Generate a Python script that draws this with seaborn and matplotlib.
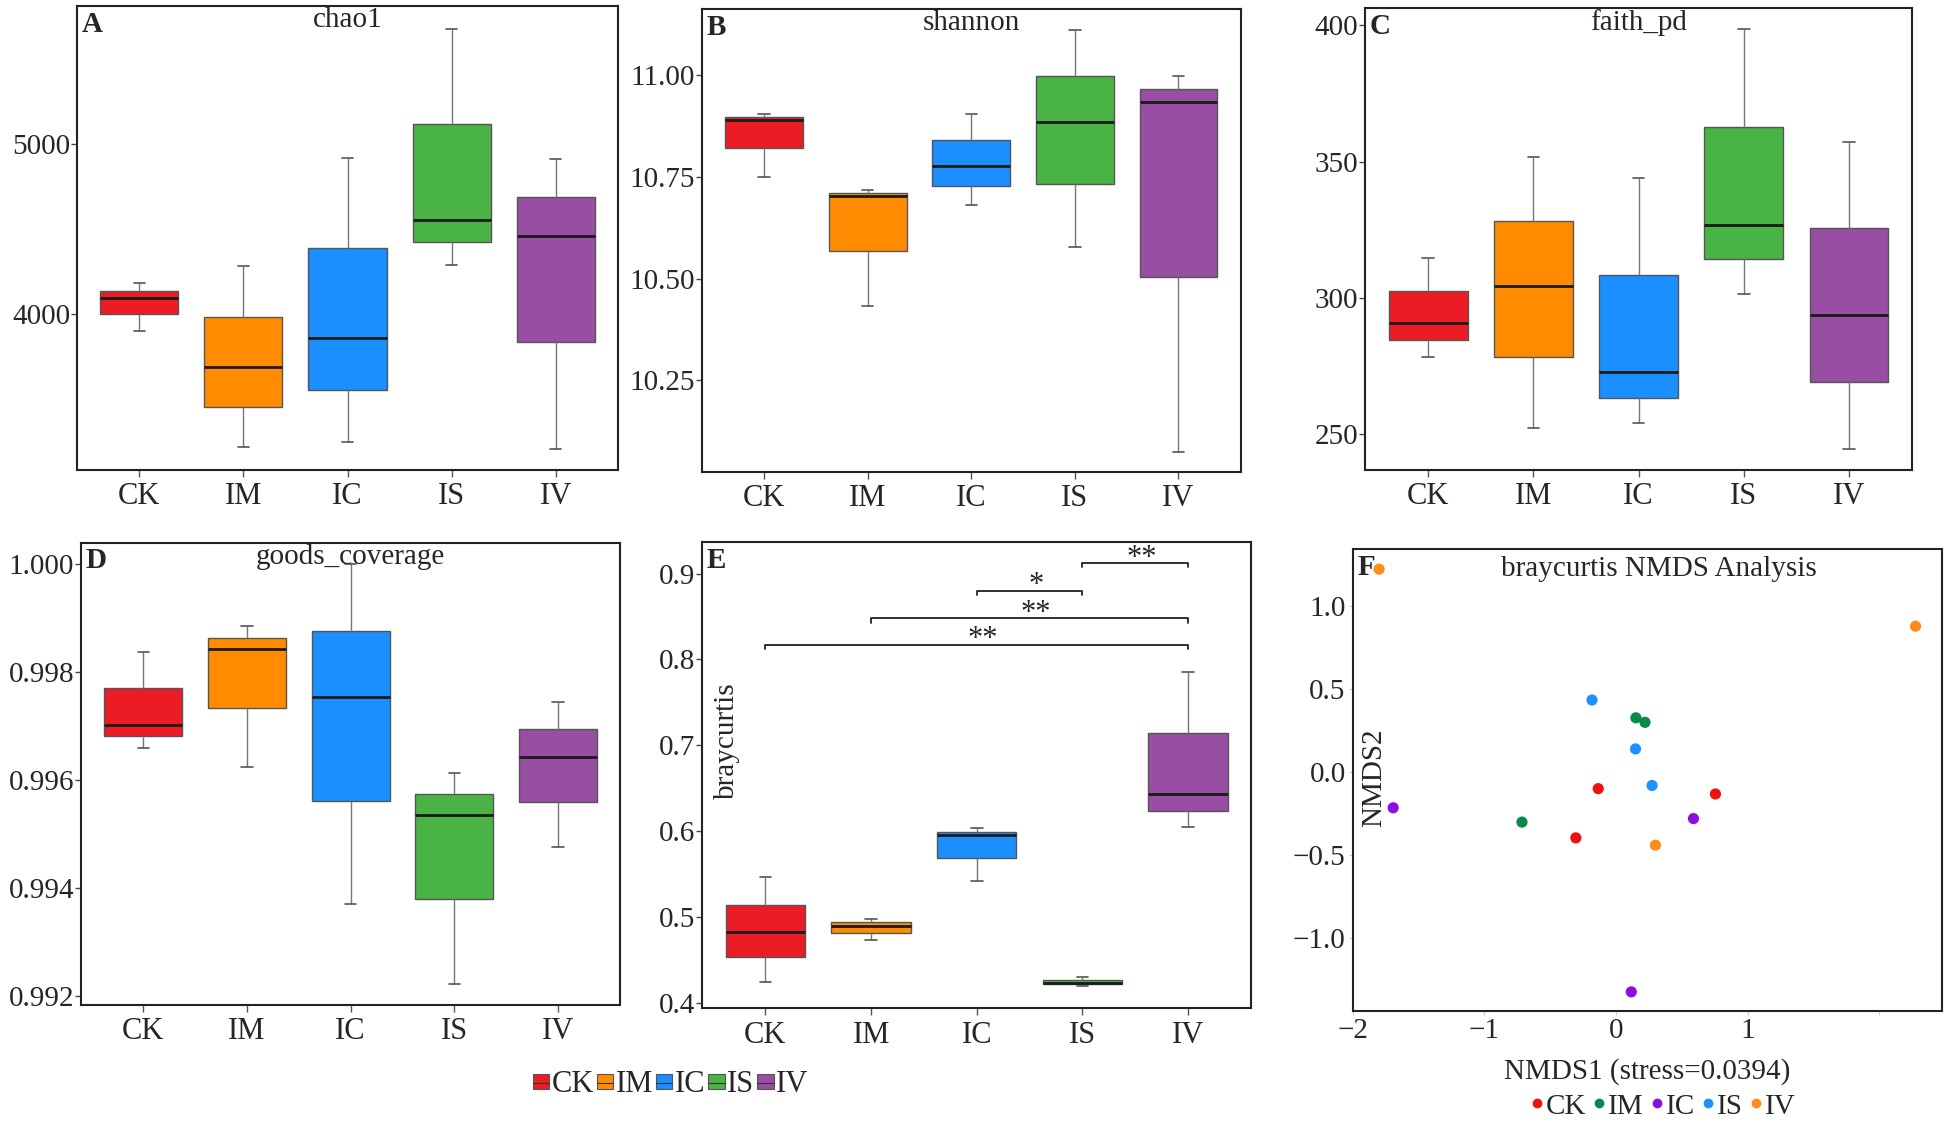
import numpy as np
import pandas as pd
import matplotlib
matplotlib.use("Agg")
import matplotlib.pyplot as plt
from matplotlib.patches import Patch
from matplotlib.lines import Line2D
from matplotlib.legend_handler import HandlerTuple
import seaborn as sns

### DATA ###
groups = ["CK", "IM", "IC", "IS", "IV"]
box_colors = ["#EC1C24", "#FF8C00", "#1A8FFF", "#4AB346", "#984EA3"]

chao1 = {"CK": [3904, 4096, 4181], "IM": [3220, 3690, 4283], "IC": [3246, 3858, 4918],
         "IS": [4288, 4556, 5678], "IV": [3207, 4462, 4912]}
shannon = {"CK": [10.751, 10.891, 10.904], "IM": [10.432, 10.703, 10.717], "IC": [10.681, 10.776, 10.904],
           "IS": [10.577, 10.886, 11.111], "IV": [10.074, 10.934, 10.999]}
faith_pd = {"CK": [278.5, 290.8, 314.6], "IM": [252.2, 304.4, 351.8], "IC": [254.1, 272.7, 344.0],
            "IS": [301.6, 326.8, 398.8], "IV": [244.5, 293.7, 357.3]}
goods_coverage = {"CK": [0.99660, 0.99702, 0.99838], "IM": [0.99624, 0.99842, 0.99885],
                  "IC": [0.99370, 0.99754, 1.00000], "IS": [0.99222, 0.99536, 0.99614],
                  "IV": [0.99476, 0.99643, 0.99745]}
braycurtis = {"CK": [0.4246, 0.4832, 0.5467], "IM": [0.4733, 0.4899, 0.4984], "IC": [0.5418, 0.5959, 0.6035],
              "IS": [0.4201, 0.4242, 0.4304], "IV": [0.6048, 0.6437, 0.7855]}

# significance brackets on braycurtis: (group1, group2, height, label)
brackets = [("CK", "IV", 0.817, "**"), ("IM", "IV", 0.848, "**"),
            ("IC", "IS", 0.880, "*"), ("IS", "IV", 0.912, "**")]

# NMDS coordinates
nmds_groups = ["CK", "IM", "IC", "IS", "IV"]
nmds_colors = ["#EE1111", "#0B8A47", "#8A10E0", "#1E90FF", "#FF8C1A"]
nmds1 = {"CK": [-0.135, 0.755, -0.305], "IM": [0.151, 0.220, -0.714], "IC": [-1.692, 0.588, 0.116],
         "IS": [-0.182, 0.148, 0.274], "IV": [-1.799, 2.274, 0.299]}
nmds2 = {"CK": [-0.100, -0.132, -0.396], "IM": [0.326, 0.299, -0.301], "IC": [-0.215, -0.280, -1.322],
         "IS": [0.433, 0.139, -0.081], "IV": [1.220, 0.877, -0.440]}
stress = 0.0394

### STYLE ###
sns.set_style("white")
plt.rcParams["font.family"] = ["Liberation Serif", "DejaVu Serif"]
plt.rcParams["axes.linewidth"] = 1.5

fig = plt.figure(figsize=(19.49, 11.23), dpi=100)


def to_long(d):
    rows = [(g, v) for g in groups for v in d[g]]
    return pd.DataFrame(rows, columns=["group", "value"])


def box_panel(rect, d, title, letter, ylim, yticks, fmt):
    ax = fig.add_axes(rect)
    df = to_long(d)
    sns.boxplot(data=df, x="group", y="value", hue="group", order=groups, hue_order=groups,
                palette=box_colors, saturation=1, legend=False, width=0.75, linewidth=1.0,
                linecolor="#555555", whis=np.inf, ax=ax,
                medianprops={"color": "#1a1a1a", "linewidth": 2.0},
                whiskerprops={"color": "#777777", "linewidth": 1.0},
                capprops={"color": "#555555", "linewidth": 1.2})
    # narrow caps like the original
    for cont in ax.containers:
        for cap in getattr(cont, "caps", []):
            xd = np.asarray(cap.get_xdata(), dtype=float)
            c = xd.mean()
            cap.set_xdata([c - 0.055, c + 0.055])
    ax.set_xlim(-0.6, 4.6)
    ax.set_ylim(*ylim)
    ax.set_yticks(yticks)
    ax.set_yticklabels([fmt.format(t) for t in yticks])
    ax.set_xlabel("")
    ax.set_ylabel("")
    ax.tick_params(axis="x", bottom=True, labelsize=22, length=5, width=1, color="#555555", pad=4)
    ax.tick_params(axis="y", left=True, labelsize=21, length=4, width=1, color="#444466", pad=1)
    for s in ax.spines.values():
        s.set_color("#222222")
        s.set_linewidth(1.5)
    ax.text(0.5, 0.997, title, transform=ax.transAxes, ha="center", va="top", fontsize=21)
    ax.text(0.008, 0.99, letter, transform=ax.transAxes, ha="left", va="top",
            fontsize=21, fontweight="bold")
    return ax


box_panel([0.0395, 0.5815, 0.2776, 0.4132], chao1, "chao1", "A",
          (3084, 5813), [4000, 5000], "{:.0f}")
box_panel([0.3602, 0.5797, 0.2763, 0.4123], shannon, "shannon", "B",
          (10.0245, 11.163), [10.25, 10.50, 10.75, 11.00], "{:.2f}")
box_panel([0.7004, 0.5815, 0.2807, 0.4114], faith_pd, "faith_pd", "C",
          (236.9, 406.4), [250, 300, 350, 400], "{:.0f}")
box_panel([0.0416, 0.1051, 0.2766, 0.4118], goods_coverage, "goods_coverage", "D",
          (0.991834, 1.0004), [0.992, 0.994, 0.996, 0.998, 1.000], "{:.3f}")
axE = box_panel([0.3602, 0.1024, 0.2819, 0.4150], braycurtis, "", "E",
                (0.3946, 0.9367), [0.4, 0.5, 0.6, 0.7, 0.8, 0.9], "{:.1f}")
axE.text(0.045, 0.573, "braycurtis", transform=axE.transAxes, rotation=90,
         ha="center", va="center", fontsize=21)
for g1, g2, h, lab in brackets:
    x1, x2 = groups.index(g1), groups.index(g2)
    axE.plot([x1, x1, x2, x2], [h - 0.005, h, h, h - 0.005], color="#222222", lw=1.3)
    axE.text((x1 + x2) / 2 + 0.06, h - 0.003, lab, ha="center", va="baseline", fontsize=22)

# shared box legend
handles = [(Patch(facecolor=c, edgecolor="#555555", linewidth=0.8),
            Line2D([], [], color="#333333", lw=0.8)) for c in box_colors]
fig.legend(handles, groups, loc="center", bbox_to_anchor=(0.344, 0.034), ncol=5,
           frameon=False, fontsize=22, handlelength=0.55, handleheight=0.4,
           handletextpad=0.08, columnspacing=0.08,
           handler_map={tuple: HandlerTuple(ndivide=1, pad=0)})

# NMDS panel
axF = fig.add_axes([0.694, 0.0993, 0.3024, 0.4118])
nm = pd.DataFrame([(g, x, y) for g in nmds_groups for x, y in zip(nmds1[g], nmds2[g])],
                  columns=["group", "NMDS1", "NMDS2"])
sns.scatterplot(data=nm, x="NMDS1", y="NMDS2", hue="group", hue_order=nmds_groups,
                palette=nmds_colors, s=65, edgecolor="none", legend=False, ax=axF)
axF.set_xlim(-2.0, 2.475)
axF.set_ylim(-1.44, 1.341)
axF.set_xticks([-2, -1, 0, 1, 2])
axF.set_xticklabels(["\u22122", "\u22121", "0", "1", ""])
axF.set_yticks([-1.0, -0.5, 0.0, 0.5, 1.0])
axF.set_yticklabels(["\u22121.0", "\u22120.5", "0.0", "0.5", "1.0"])
axF.tick_params(axis="both", bottom=True, left=True, labelsize=21, length=3, width=0.8,
                color="#cccccc", pad=2)
for s in axF.spines.values():
    s.set_color("#222222")
    s.set_linewidth(1.5)
axF.set_xlabel(f"NMDS1 (stress={stress})", fontsize=21, labelpad=10)
axF.set_ylabel("")
axF.text(0.037, 0.5055, "NMDS2", transform=axF.transAxes, rotation=90,
         ha="center", va="center", fontsize=21)
axF.text(0.52, 0.985, "braycurtis NMDS Analysis", transform=axF.transAxes,
         ha="center", va="top", fontsize=21)
axF.text(0.008, 0.99, "F", transform=axF.transAxes, ha="left", va="top",
         fontsize=21, fontweight="bold")

f_handles = [Line2D([], [], marker="o", linestyle="", color=c, markersize=6) for c in nmds_colors]
fig.legend(f_handles, nmds_groups, loc="center", bbox_to_anchor=(0.853, 0.0147), ncol=5,
           frameon=False, fontsize=21, handlelength=0.5, handletextpad=0.05,
           columnspacing=0.2, borderpad=0.1)

fig.savefig("out.png", dpi=100)
